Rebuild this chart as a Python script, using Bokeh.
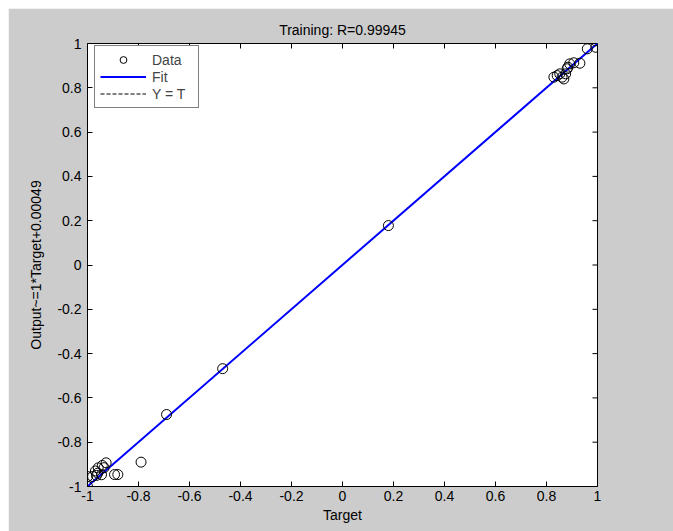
import math
from bokeh.plotting import figure
from bokeh.models import LinearAxis, FixedTicker, Legend, LegendItem, Range1d, Spacer
from bokeh.layouts import row, column
from bokeh.embed import file_html
from bokeh.resources import INLINE

# ---- data ----
title_text = "Training: R=0.99945"
x_label = "Target"
y_label = "Output~=1*Target+0.00049"

targets = [-1.00, -1.00, -0.98, -0.965, -0.945, -0.969, -0.958, -0.942, -0.927,
           -0.96, -0.935, -0.894, -0.881, -0.79,
           -0.69, -0.47, 0.18,
           0.829, 0.842, 0.852, 0.861, 0.868, 0.875, 0.881, 0.884, 0.891,
           0.907, 0.931, 0.96, 0.993, 0.993]
outputs = [-1.00, -0.955, -0.955, -0.95, -0.947, -0.93, -0.916, -0.905, -0.893,
           -0.94, -0.915, -0.946, -0.946, -0.89,
           -0.675, -0.468, 0.178,
           0.848, 0.855, 0.863, 0.848, 0.84, 0.863, 0.886, 0.893, 0.908,
           0.913, 0.911, 0.976, 0.983, 1.012]

fit_slope = 1.0
fit_intercept = 0.00049
line_x = [-1.0, 1.0]
fit_y = [fit_slope * v + fit_intercept for v in line_x]
ident_y = list(line_x)

tick_vals = [-1, -0.8, -0.6, -0.4, -0.2, 0, 0.2, 0.4, 0.6, 0.8, 1]
tick_labels = ["-1", "-0.8", "-0.6", "-0.4", "-0.2", "0", "0.2", "0.4", "0.6", "0.8", "1"]

FONT = "Liberation Sans"
FS = "14px"
x_lo, x_hi = -1, 1
y_lo, y_hi = -1, 1

p = figure(width=665, height=523, output_backend="svg", toolbar_location=None,
           x_range=Range1d(x_lo, x_hi), y_range=Range1d(y_lo, y_hi),
           x_axis_location=None, y_axis_location=None,
           min_border_left=79, min_border_right=76, min_border_top=35,
           min_border_bottom=45)

p.background_fill_color = "white"
p.border_fill_color = "#cccccc"
p.outline_line_color = "black"
p.outline_line_width = 1
p.xgrid.visible = False
p.ygrid.visible = False

p.title.text = title_text
p.title.text_font = FONT
p.title.text_font_size = FS
p.title.text_font_style = "normal"
p.title.text_color = "black"
p.title.align = "center"
p.title.standoff = 12

overrides = {v: s for v, s in zip(tick_vals, tick_labels)}

def make_axis():
    ax = LinearAxis(ticker=FixedTicker(ticks=tick_vals))
    ax.major_tick_in = 5
    ax.major_tick_out = 0
    ax.minor_tick_line_color = None
    ax.axis_line_color = "black"
    ax.major_tick_line_color = "black"
    ax.major_label_overrides = overrides
    ax.major_label_text_font = FONT
    ax.major_label_text_font_size = FS
    ax.major_label_text_color = "black"
    ax.axis_label_text_font = FONT
    ax.axis_label_text_font_size = FS
    ax.axis_label_text_font_style = "normal"
    ax.axis_label_text_color = "black"
    return ax

bottom = make_axis()
bottom.axis_label = x_label
bottom.major_label_standoff = 4
bottom.axis_label_standoff = 3
left = make_axis()
left.axis_label = y_label
left.major_label_standoff = 6
left.axis_label_standoff = 10
p.add_layout(bottom, "below")
p.add_layout(left, "left")

# inward ticks on the top and right edges of the box
p.ray(x=tick_vals, y=[y_hi] * len(tick_vals), length=5, length_units="screen",
      angle=-math.pi / 2, line_color="black", line_width=1)
p.ray(x=[x_hi] * len(tick_vals), y=tick_vals, length=5, length_units="screen",
      angle=math.pi, line_color="black", line_width=1)

r_ident = p.line(line_x, ident_y, line_color="black", line_width=1, line_dash="4 2")
r_fit = p.line(line_x, fit_y, line_color="#0000ff", line_width=2)
r_data = p.scatter(targets, outputs, marker="circle", size=10, fill_color=None,
                   line_color="black", line_width=1)

legend = Legend(items=[LegendItem(label="Data", renderers=[r_data]),
                       LegendItem(label="Fit", renderers=[r_fit]),
                       LegendItem(label="Y = T", renderers=[r_ident])],
                location=(7, 378))
legend.label_text_font = FONT
legend.label_text_font_size = FS
legend.glyph_width = 46
legend.glyph_height = 17
legend.label_height = 17
legend.label_width = 41
legend.label_standoff = 6
legend.spacing = 0
legend.padding = 5
legend.margin = 0
legend.border_line_color = "black"
legend.border_line_width = 1
legend.background_fill_color = "white"
legend.background_fill_alpha = 1
p.add_layout(legend, "center")

layout = row(Spacer(width=8), column(Spacer(height=8), p))

open("out.html", "w").write(file_html(layout, INLINE))
